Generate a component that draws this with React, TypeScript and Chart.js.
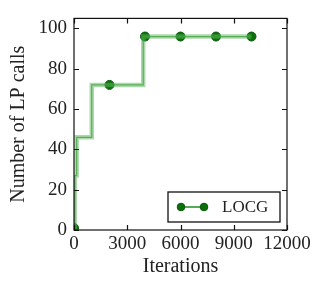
import React, { useEffect, useRef } from "react";
import { Chart, registerables } from "chart.js";

Chart.register(...registerables);

// Step curve (iteration where the count changes, count)
const stepIterations = [0, 50, 150, 1000, 3900, 10000];
const stepCalls = [1, 27, 46, 72, 96, 96];
// Markers
const markerIterations = [0, 2000, 4000, 6000, 8000, 10000];
const markerCalls = [1, 72, 96, 96, 96, 96];
// Axis ticks
const xTicks = [0, 3000, 6000, 9000, 12000];
const yTicks = [0, 20, 40, 60, 80, 100];
const seriesLabel = "LOCG";

const FONT = "'Liberation Serif', 'DejaVu Serif', serif";

const framePlugin = {
  id: "frame",
  afterDatasetsDraw(chart: any) {
    const { ctx, chartArea: a, scales } = chart;
    ctx.save();
    ctx.strokeStyle = "#111";
    ctx.lineWidth = 1.2;
    const tl = 5;
    ctx.beginPath();
    scales.x.ticks.forEach((t: any) => {
      const px = Math.round(scales.x.getPixelForValue(t.value)) + 0.5;
      ctx.moveTo(px, a.bottom);
      ctx.lineTo(px, a.bottom - tl);
      ctx.moveTo(px, a.top);
      ctx.lineTo(px, a.top + tl);
    });
    scales.y.ticks.forEach((t: any) => {
      const py = Math.round(scales.y.getPixelForValue(t.value)) + 0.5;
      ctx.moveTo(a.left, py);
      ctx.lineTo(a.left + tl, py);
      ctx.moveTo(a.right, py);
      ctx.lineTo(a.right - tl, py);
    });
    ctx.stroke();
    ctx.strokeRect(a.left, a.top, a.right - a.left, a.bottom - a.top);

    // legend box
    const w = 112;
    const h = 30;
    const bx = a.right - 7 - w;
    const by = a.bottom - 8 - h;
    ctx.fillStyle = "#fff";
    ctx.fillRect(bx, by, w, h);
    ctx.lineWidth = 1.3;
    ctx.strokeStyle = "#111";
    ctx.strokeRect(bx, by, w, h);
    const cy = by + h / 2;
    const m1 = bx + 13;
    const m2 = bx + 36;
    ctx.strokeStyle = "#1e8c1e";
    ctx.lineWidth = 1.5;
    ctx.beginPath();
    ctx.moveTo(m1, cy);
    ctx.lineTo(m2, cy);
    ctx.stroke();
    ctx.fillStyle = "#0a700a";
    ctx.strokeStyle = "#0a5a0a";
    ctx.lineWidth = 1;
    [m1, m2].forEach((mx) => {
      ctx.beginPath();
      ctx.arc(mx, cy, 3.8, 0, Math.PI * 2);
      ctx.fill();
      ctx.stroke();
    });
    ctx.fillStyle = "#222";
    ctx.font = `17px ${FONT}`;
    ctx.textBaseline = "middle";
    ctx.textAlign = "left";
    ctx.fillText(chart.data.datasets[2].label, bx + 54, cy + 1);
    ctx.restore();
  },
};

export default function App() {
  const ref = useRef<HTMLCanvasElement>(null);

  useEffect(() => {
    if (!ref.current) return;
    const chart = new Chart(ref.current, {
      type: "line",
      data: {
        datasets: [
          {
            label: "halo",
            data: stepIterations.map((x, i) => ({ x, y: stepCalls[i] })),
            stepped: "before",
            borderColor: "rgba(90,180,90,0.5)",
            borderWidth: 4.5,
            pointRadius: 0,
            fill: false,
          },
          {
            label: "core",
            data: stepIterations.map((x, i) => ({ x, y: stepCalls[i] })),
            stepped: "before",
            borderColor: "rgba(30,140,30,0.75)",
            borderWidth: 1.2,
            pointRadius: 0,
            fill: false,
          },
          {
            label: seriesLabel,
            data: markerIterations.map((x, i) => ({ x, y: markerCalls[i] })),
            showLine: false,
            pointRadius: 4.5,
            pointBackgroundColor: "#0a700a",
            pointBorderColor: "#0a5a0a",
            pointBorderWidth: 1,
            clip: 0,
          } as any,
        ],
      },
      options: {
        animation: false,
        responsive: true,
        maintainAspectRatio: false,
        layout: { padding: { top: 10.5, right: 37, bottom: 0, left: 0 } },
        plugins: { legend: { display: false }, tooltip: { enabled: false } },
        scales: {
          x: {
            type: "linear",
            min: 0,
            max: 12000,
            grid: { display: false, drawTicks: false },
            border: { display: false },
            afterBuildTicks: (s: any) => {
              s.ticks = xTicks.map((v) => ({ value: v }));
            },
            afterFit: (s: any) => {
              s.height = 61;
            },
            ticks: {
              padding: 3,
              color: "#222",
              maxRotation: 0,
              font: { family: FONT, size: 19 },
              callback: (v: any) => String(v),
            },
            title: {
              display: true,
              text: "Iterations",
              color: "#222",
              font: { family: FONT, size: 20 },
              padding: { top: 0, bottom: 12 },
            },
          },
          y: {
            type: "linear",
            min: 0,
            max: 105,
            grid: { display: false, drawTicks: false },
            border: { display: false },
            afterBuildTicks: (s: any) => {
              s.ticks = yTicks.map((v) => ({ value: v }));
            },
            afterFit: (s: any) => {
              s.width = 74;
            },
            ticks: {
              padding: 7,
              color: "#222",
              font: { family: FONT, size: 19 },
              callback: (v: any) => String(v),
            },
            title: {
              display: true,
              text: "Number of LP calls",
              color: "#222",
              font: { family: FONT, size: 20 },
              padding: { top: 6.5, bottom: 0 },
            },
          },
        },
      },
      plugins: [framePlugin],
    });
    return () => chart.destroy();
  }, []);

  return (
    <div style={{ position: "absolute", left: 0, top: 0, width: 324, height: 291, background: "#fff" }}>
      <canvas ref={ref} />
    </div>
  );
}
